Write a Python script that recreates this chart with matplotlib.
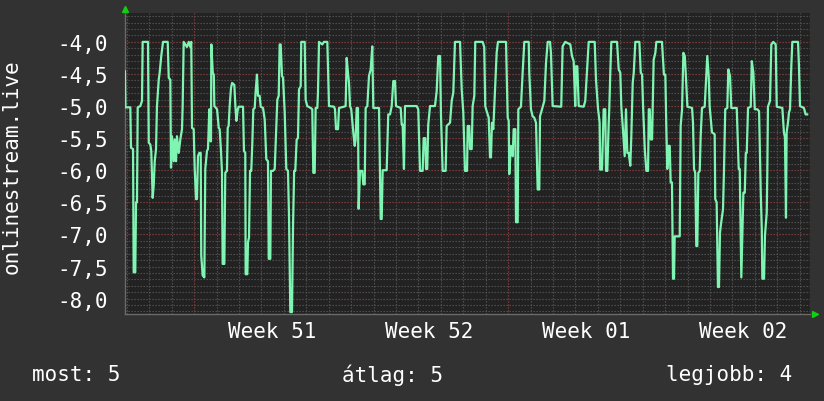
import matplotlib.pyplot as plt
import numpy as np
from matplotlib.ticker import MultipleLocator, FuncFormatter

# hours since start of graph window / value
hours = [0, 0.5, 5.7, 6.4, 8.6, 9.3, 11.0, 11.8, 12.8, 13.6, 16.4, 18.2, 18.9, 24.6,
         25.4, 27.1, 28.1, 29.6, 30.7, 31.8, 33.2, 34.2, 36.1, 37.1, 38.8, 40.7, 45.7,
         46.8, 48.5, 49.2, 50.3, 52.1, 53.2, 54.6, 55.6, 57.5, 59.2, 61.0, 61.7, 62.8,
         66.3, 68.2, 69.9, 70.9, 71.7, 73.5, 74.6, 76.0, 77.0, 78.1, 79.5, 81.0, 81.6,
         83.1, 84.9, 85.9, 87.7, 88.8, 90.2, 91.0, 91.6, 92.0, 92.4, 93.9, 95.0, 95.6,
         98.5, 100.3, 101.3, 102.7, 103.8, 104.5, 106.3, 107.3, 109.1, 109.9, 110.9,
         112.0, 113.4, 114.6, 117.0, 118.1, 119.2, 120.7, 121.7, 126.3, 127.3, 128.7,
         129.1, 130.9, 131.6, 132.7, 133.8, 135.1, 136.2, 137.3, 138.8, 139.8, 141.2,
         142.3, 144.1, 145.2, 147.7, 149.5, 151.2, 153.0, 153.8, 155.5, 156.2, 158.4,
         160.2, 161.9, 163.0, 164.5, 165.5, 166.6, 168.0, 169.1, 170.9, 172.6, 174.4,
         175.5, 176.9, 178.7, 179.8, 181.0, 182.2, 183.7, 185.1, 186.2, 188.0, 188.6,
         192.3, 193.3, 195.0, 198.7, 200.4, 201.5, 203.0, 204.0, 205.8, 206.5, 207.6,
         211.1, 212.9, 216.5, 218.3, 223.6, 224.7, 225.8, 227.9, 229.0, 234.3, 236.1,
         237.2, 238.6, 239.7, 240.8, 242.1, 244.3, 245.8, 246.8, 247.9, 249.3, 250.0,
         251.5, 253.9, 255.0, 256.5, 257.5, 259.3, 261.1, 262.9, 264.6, 265.7, 271.8,
         273.6, 274.7, 275.7, 280.0, 281.7, 283.6, 285.4, 287.1, 288.9, 290.0, 295.0,
         296.1, 297.1, 298.5, 299.6, 312.1, 313.8, 315.7, 318.5, 319.6, 321.3, 322.1,
         323.4, 324.5, 326.4, 331.7, 333.5, 335.2, 337.1, 338.1, 339.9, 343.1, 344.2,
         347.8, 349.6, 351.3, 353.1, 358.5, 360.3, 362.0, 363.8, 366.0, 366.7, 368.4,
         369.2, 371.0, 372.0, 373.8, 374.8, 382.7, 384.4, 385.5, 387.0, 389.2, 390.6,
         391.6, 392.7, 394.1, 395.2, 396.2, 397.7, 399.1, 407.7, 409.5, 410.6, 411.2,
         413.0, 414.9, 415.9, 417.7, 418.4, 420.2, 420.9, 423.7, 425.5, 427.3, 432.0,
         432.6, 434.4, 436.2, 437.9, 439.8, 441.6, 443.3, 444.1, 446.2, 448.7, 450.5,
         452.3, 454.8, 455.8, 457.6, 466.8, 468.3, 471.1, 476.5, 478.3, 480.1, 481.8,
         482.6, 484.0, 485.5, 490.8, 492.5, 494.3, 496.2, 502.6, 504.0, 506.1, 507.9,
         508.5, 510.4, 512.2, 513.9, 514.7, 516.1, 517.6, 518.2, 519.3, 520.4, 526.5,
         528.3, 530.0, 531.1, 532.6, 534.7, 536.1, 537.5, 539.0, 540.7, 541.8, 543.3,
         544.4, 546.1, 550.4, 551.9, 553.3, 554.4, 556.2, 557.9, 559.7, 560.5, 561.5,
         562.6, 564.0, 565.7, 567.5, 568.6, 574.6, 576.7, 578.2, 579.2, 580.3, 581.8,
         582.9, 583.9, 585.3, 586.4, 587.5, 588.2, 593.6, 594.6, 596.1, 597.5, 599.0,
         600.0, 601.8, 606.8, 607.8, 608.9, 610.2, 611.3, 612.4, 613.5, 615.0, 616.0,
         617.4, 620.3, 622.0, 623.1, 624.6, 625.6, 628.1, 631.0, 631.6, 633.1, 634.5,
         635.6, 636.7, 638.0, 639.9, 640.9, 642.3, 644.5, 645.6, 647.4, 648.8, 654.6,
         656.7, 657.8, 658.9, 659.5, 660.6, 661.7, 663.2, 664.3, 665.3, 666.7, 669.6,
         670.7, 672.4, 673.9, 676.7, 678.5, 680.3, 681.4, 682.0, 683.8, 684.8, 686.7,
         687.3, 688.0, 690.2, 691.6, 693.7, 696.3, 697.4, 703.4, 705.1, 706.2, 707.3,
         708.0, 709.4, 710.5, 711.6, 713.0, 714.1, 720.2, 721.2, 722.3, 726.5, 728.3,
         730.0]
values = [-4.46, -5.02, -5.02, -5.65, -5.67, -7.59, -7.59, -6.5, -6.5, -5.02, -5.0, -4.92,
          -4.0, -4.0, -5.57, -5.6, -5.7, -6.43, -6.24, -5.86, -5.67, -5.0, -4.59, -4.48,
          -4.22, -4.0, -4.0, -4.56, -4.59, -5.96, -5.47, -5.86, -5.52, -5.86, -5.47,
          -5.73, -5.52, -5.36, -5.0, -4.0, -4.08, -4.0, -4.08, -4.0, -5.34, -5.36, -5.98,
          -6.45, -6.45, -5.78, -5.73, -5.73, -7.33, -7.64, -7.67, -5.98, -5.7, -5.67,
          -5.05, -5.1, -5.55, -5.55, -4.04, -4.48, -4.51, -5.0, -5.05, -5.34, -5.36,
          -5.7, -6.04, -7.46, -7.46, -6.04, -6.01, -5.34, -5.31, -5.0, -4.72, -4.64,
          -4.67, -5.0, -5.23, -5.05, -5.01, -5.01, -5.7, -5.73, -7.62, -7.62, -7.12,
          -7.05, -6.01, -6.01, -5.6, -5.05, -5.03, -4.77, -4.51, -4.84, -4.84, -5.01,
          -5.03, -5.21, -5.83, -5.86, -7.38, -7.38, -6.01, -6.01, -5.98, -5.34, -4.9,
          -4.84, -4.04, -4.04, -4.53, -4.56, -5.1, -5.98, -6.01, -6.71, -8.21, -8.21,
          -6.87, -6.01, -6.01, -5.52, -5.5, -4.74, -4.69, -4.0, -4.0, -4.9, -5.0, -5.03,
          -5.05, -6.04, -6.04, -5.03, -5.03, -4.79, -4.0, -4.04, -4.0, -4.0, -5.0, -5.01,
          -5.05, -5.36, -5.36, -5.03, -5.01, -5.0, -4.25, -4.48, -4.64, -5.0, -5.05,
          -5.41, -5.62, -5.52, -5.03, -5.03, -6.6, -6.01, -6.01, -6.22, -6.22, -5.03,
          -5.0, -4.53, -4.43, -4.07, -5.03, -5.03, -6.76, -6.76, -6.0, -6.0, -5.13,
          -5.13, -5.0, -4.61, -4.61, -5.0, -5.03, -5.29, -5.29, -5.98, -5.0, -5.0, -5.05,
          -6.01, -6.01, -5.5, -5.5, -5.98, -5.98, -5.29, -5.0, -5.0, -4.77, -4.22, -4.22,
          -5.13, -6.01, -6.01, -5.31, -5.26, -4.92, -4.79, -4.0, -4.0, -4.74, -5.1,
          -6.01, -6.01, -5.31, -5.31, -5.67, -5.67, -5.0, -4.84, -4.0, -4.0, -4.08, -5.0,
          -5.08, -5.18, -5.8, -5.8, -5.26, -5.36, -5.0, -4.69, -4.17, -4.0, -4.0, -5.18,
          -5.23, -6.06, -5.62, -5.78, -5.36, -5.36, -6.81, -6.81, -5.05, -5.01, -4.48,
          -4.0, -4.0, -4.48, -5.05, -5.16, -5.18, -5.26, -6.3, -6.3, -5.16, -5.05, -4.92,
          -4.33, -4.0, -4.0, -4.17, -5.0, -5.01, -4.07, -4.0, -4.04, -4.22, -4.3, -5.0,
          -4.38, -4.38, -5.0, -5.01, -4.92, -4.48, -4.0, -4.0, -4.59, -5.03, -5.26,
          -5.99, -5.99, -5.05, -5.05, -6.01, -6.01, -5.26, -5.05, -4.48, -4.0, -4.0,
          -4.43, -4.48, -5.01, -5.31, -5.78, -5.05, -5.73, -5.73, -5.93, -5.47, -4.64,
          -4.48, -4.0, -4.0, -4.48, -4.51, -5.01, -5.67, -6.01, -6.01, -5.05, -5.05,
          -5.52, -5.52, -4.28, -4.17, -4.0, -4.0, -4.51, -4.51, -5.29, -5.98, -5.62,
          -5.62, -6.19, -6.19, -7.69, -7.69, -7.03, -7.03, -5.31, -5.05, -4.17, -4.22,
          -4.48, -5.01, -5.03, -5.26, -5.98, -6.04, -7.18, -7.18, -6.04, -6.01, -5.47,
          -5.03, -5.01, -4.53, -4.22, -4.53, -5.0, -5.41, -5.44, -6.45, -6.5, -7.82,
          -7.82, -6.97, -6.81, -6.61, -6.04, -5.05, -5.03, -4.43, -4.53, -5.03, -5.03,
          -5.98, -5.98, -7.02, -7.67, -7.02, -6.35, -6.35, -5.73, -5.73, -5.03, -5.01,
          -4.3, -4.48, -5.05, -5.05, -5.08, -6.35, -6.92, -7.69, -7.69, -7.02, -6.66,
          -6.04, -5.01, -4.92, -4.04, -4.0, -4.04, -5.01, -5.03, -5.41, -5.49, -6.74,
          -5.41, -5.26, -5.1, -5.05, -4.38, -4.0, -4.0, -4.38, -5.0, -5.03, -5.13, -5.13]

week_starts = [74, 242, 410, 578]
week_labels = ["Week 51", "Week 52", "Week 01", "Week 02"]
legend = ["most: 5", "átlag: 5", "legjobb: 4"]

BG = "#323232"
CANVAS = "#222222"
LINE = "#80f5b3"
FONT = "DejaVu Sans Mono"

fig = plt.figure(figsize=(8.24, 4.02), dpi=100, facecolor=BG)
W, H = 824, 402
ax = fig.add_axes([125 / W, 1 - 315 / H, 685 / W, 301 / H], facecolor=CANVAS)

ax.set_xlim(0, 733)
ax.set_ylim(-8.24, -3.55)

# grid: gray dotted minor, red dotted major
dots = (0, (1.2, 1.5))
for d in np.arange(2, 733, 24):
    ax.axvline(d, color="#555555", lw=0.8, ls=dots, zorder=1)
for w in week_starts:
    ax.axvline(w, color="#7a3232", lw=0.8, ls=dots, zorder=1)
for yv in np.arange(-8.2, -3.55, 0.1):
    ax.axhline(yv, color="#555555", lw=0.8, ls=dots, zorder=1)
for yv in np.arange(-8.0, -3.9, 0.5):
    ax.axhline(yv, color="#7a3232", lw=0.8, ls=dots, zorder=1)

ax.plot(hours, values, color=LINE, lw=1.6, zorder=3)

ax.yaxis.set_major_locator(MultipleLocator(0.5))
ax.yaxis.set_major_formatter(FuncFormatter(lambda v, p: f"{v:.1f}".replace(".", ",")))
ax.tick_params(axis="y", length=0, pad=12, labelcolor="white", labelsize=15)
for lab in ax.get_yticklabels():
    lab.set_family(FONT)
ax.set_xticks([])

for s in ["top", "right"]:
    ax.spines[s].set_visible(False)
for s in ["left", "bottom"]:
    ax.spines[s].set_color("#6a6a6a")
    ax.spines[s].set_linewidth(1)

# arrow heads at axis ends
ax.plot([0], [1.012], marker="^", color="#10d010", ms=5, transform=ax.transAxes, clip_on=False)
ax.plot([1.008], [0], marker=">", color="#10d010", ms=5, transform=ax.transAxes, clip_on=False)

for w, lab in zip(week_starts, week_labels):
    ax.text(w + 84, -0.055, lab, transform=ax.get_xaxis_transform(), ha="center", va="center",
            color="white", fontsize=15, family=FONT)

fig.text(12 / W, 1 - 167 / H, "onlinestream.live", rotation=90, ha="center", va="center",
         color="white", fontsize=15, family=FONT)

fig.text(32 / W, 1 - 375 / H, legend[0], ha="left", va="center", color="white", fontsize=15, family=FONT)
fig.text(392 / W, 1 - 375 / H, legend[1], ha="center", va="center", color="white", fontsize=15, family=FONT)
fig.text(792 / W, 1 - 375 / H, legend[2], ha="right", va="center", color="white", fontsize=15, family=FONT)

fig.savefig("out.png", dpi=100, facecolor=BG)
